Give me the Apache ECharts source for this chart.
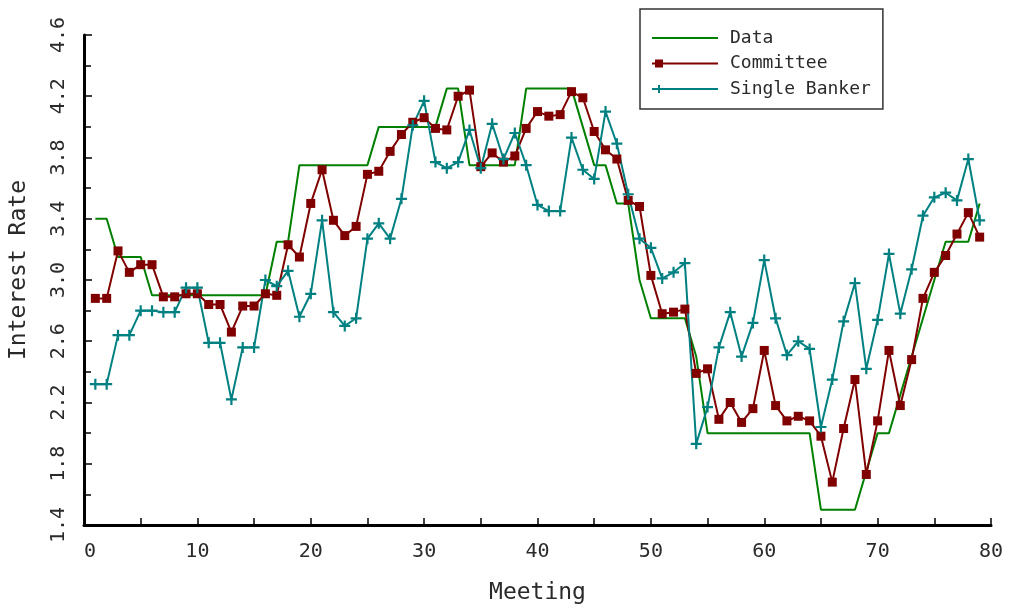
<!DOCTYPE html>
<html>
<head>
<meta charset="utf-8">
<script src="https://cdn.jsdelivr.net/npm/echarts@6/dist/echarts.min.js"></script>
<style>
html,body{margin:0;padding:0;background:#fff;}
#chart{width:1012px;height:611px;}
</style>
</head>
<body>
<div id="chart"></div>
<script>
var meetings = [];
for (var i = 1; i <= 79; i++) meetings.push(i);

var dataRate = [3.4,3.4,3.15,3.15,3.15,2.9,2.9,2.9,2.9,2.9,
  2.9,2.9,2.9,2.9,2.9,2.9,3.25,3.25,3.75,3.75,
  3.75,3.75,3.75,3.75,3.75,4.0,4.0,4.0,4.0,4.0,
  4.0,4.25,4.25,3.75,3.75,3.75,3.75,3.75,4.25,4.25,
  4.25,4.25,4.25,4.0,3.75,3.75,3.5,3.5,3.0,2.75,
  2.75,2.75,2.75,2.5,2.0,2.0,2.0,2.0,2.0,2.0,
  2.0,2.0,2.0,2.0,1.5,1.5,1.5,1.5,1.75,2.0,
  2.0,2.25,2.5,2.75,3.0,3.25,3.25,3.25,3.5];

var committee = [2.88,2.88,3.19,3.05,3.10,3.10,2.89,2.89,2.91,2.91,
  2.84,2.84,2.66,2.83,2.83,2.91,2.90,3.23,3.15,3.50,
  3.72,3.39,3.29,3.35,3.69,3.71,3.84,3.95,4.03,4.06,
  3.99,3.98,4.20,4.24,3.74,3.83,3.77,3.81,3.99,4.10,
  4.07,4.08,4.23,4.19,3.97,3.85,3.79,3.52,3.48,3.03,
  2.78,2.79,2.81,2.39,2.42,2.09,2.20,2.07,2.16,2.54,
  2.18,2.08,2.11,2.08,1.98,1.68,2.03,2.35,1.73,2.08,
  2.54,2.18,2.48,2.88,3.05,3.16,3.30,3.44,3.28];

var singleBanker = [2.32,2.32,2.64,2.64,2.80,2.80,2.79,2.79,2.95,2.95,
  2.59,2.59,2.22,2.56,2.56,3.00,2.96,3.06,2.76,2.91,
  3.39,2.79,2.70,2.75,3.27,3.37,3.27,3.53,4.01,4.17,
  3.77,3.73,3.77,3.98,3.73,4.02,3.79,3.96,3.75,3.49,
  3.45,3.45,3.93,3.72,3.66,4.10,3.89,3.56,3.27,3.21,
  3.01,3.05,3.11,1.93,2.17,2.56,2.79,2.50,2.72,3.13,
  2.75,2.51,2.60,2.55,2.04,2.35,2.73,2.98,2.42,2.74,
  3.17,2.78,3.07,3.42,3.54,3.57,3.52,3.79,3.39];

var seriesNames = ['Data', 'Committee', 'Single Banker'];
var xTicks = {min: 0, max: 80, step: 10};
var yTicks = {min: 1.4, max: 4.6, step: 0.4};

function pairs(vals) {
  return vals.map(function (v, i) { return [meetings[i], v]; });
}

var FONT = '"DejaVu Sans Mono", monospace';
var TXT = '#2a2a2a';
var plusPath = 'path://M4,0 L6,0 L6,4 L10,4 L10,6 L6,6 L6,10 L4,10 L4,6 L0,6 L0,4 L4,4 Z';

var chart = echarts.init(document.getElementById('chart'), null, {renderer: 'canvas'});
chart.setOption({
  animation: false,
  backgroundColor: '#fff',
  grid: {left: 83, right: 21, top: 35, bottom: 86, containLabel: false},
  legend: {
    orient: 'vertical',
    left: 640, top: 9,
    padding: [20, 12, 11, 12],
    itemWidth: 66, itemHeight: 14, itemGap: 7.5,
    borderColor: '#333', borderWidth: 1.5,
    backgroundColor: '#fff',
    textStyle: {fontFamily: FONT, fontSize: 18, color: TXT, padding: [0, 0, 0, 7]},
    data: [
      {name: seriesNames[0], icon: 'path://M0,6 L66,6 L66,8 L0,8 Z'},
      {name: seriesNames[1], icon: 'path://M0,6 L66,6 L66,8 L0,8 Z M3,3 L11,3 L11,11 L3,11 Z'},
      {name: seriesNames[2], icon: 'path://M0,6 L66,6 L66,8 L0,8 Z M6,3 L8,3 L8,11 L6,11 Z'}
    ]
  },
  xAxis: {
    type: 'value', min: xTicks.min, max: xTicks.max, interval: xTicks.step,
    name: 'Meeting', nameLocation: 'middle', nameGap: 57,
    nameTextStyle: {fontFamily: FONT, fontSize: 23, color: TXT},
    axisLine: {show: true, onZero: false, lineStyle: {color: '#000', width: 3}},
    axisTick: {show: true, inside: true, length: 7, lineStyle: {color: '#000', width: 1.5}},
    minorTick: {show: true, splitNumber: 2, length: 7, lineStyle: {color: '#000', width: 1.5}},
    splitLine: {show: false},
    axisLabel: {margin: 17, fontFamily: FONT, fontSize: 20, color: TXT, alignMinLabel: 'left'}
  },
  yAxis: {
    type: 'value', min: yTicks.min, max: yTicks.max, interval: yTicks.step,
    name: 'Interest Rate', nameLocation: 'middle', nameGap: 53,
    nameTextStyle: {fontFamily: FONT, fontSize: 23, color: TXT, padding: [0, 0, 0, 20]},
    axisLine: {show: true, onZero: false, lineStyle: {color: '#000', width: 3}},
    axisTick: {show: true, inside: true, length: 8, lineStyle: {color: '#000', width: 1.5}},
    minorTick: {show: true, splitNumber: 2, length: 7, lineStyle: {color: '#000', width: 1.5}},
    splitLine: {show: false},
    axisLabel: {margin: 15, rotate: 90, fontFamily: FONT, fontSize: 20, color: TXT,
      formatter: function (v) { return v.toFixed(1); }}
  },
  series: [
    {name: seriesNames[0], type: 'line', data: pairs(dataRate), showSymbol: false, symbol: 'none',
      lineStyle: {color: '#008000', width: 2}, itemStyle: {color: '#008000'}},
    {name: seriesNames[1], type: 'line', data: pairs(committee), symbol: 'rect', symbolSize: 9,
      lineStyle: {color: '#800000', width: 2}, itemStyle: {color: '#800000'}},
    {name: seriesNames[2], type: 'line', data: pairs(singleBanker), symbol: plusPath, symbolSize: 11,
      lineStyle: {color: '#008080', width: 2}, itemStyle: {color: '#008080'}}
  ]
});
</script>
</body>
</html>
